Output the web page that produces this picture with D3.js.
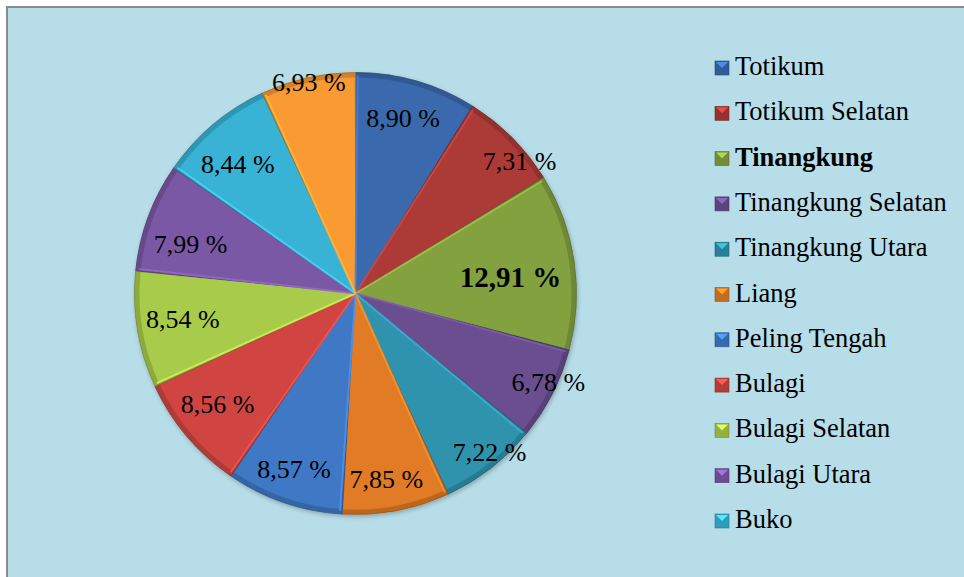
<!DOCTYPE html>
<html>
<head>
    <meta charset="utf-8">
    <style> body { margin: 0; background: #ffffff; } </style>
    <script src="https://cdn.jsdelivr.net/npm/d3@7/dist/d3.min.js"></script>
</head>
<body>
    <div id="chart"></div>
    <script>

        var kecamatan = ["Totikum", "Totikum Selatan", "Tinangkung", "Tinangkung Selatan",
            "Tinangkung Utara", "Liang", "Peling Tengah", "Bulagi", "Bulagi Selatan",
            "Bulagi Utara", "Buko", "Buko Selatan"];
        var persen = [8.90, 7.31, 12.91, 6.78, 7.22, 7.85, 8.57, 8.56, 8.54, 7.99, 8.44, 6.93];
        var labelTeks = ["8,90 %", "7,31 %", "12,91 %", "6,78 %", "7,22 %", "7,85 %",
            "8,57 %", "8,56 %", "8,54 %", "7,99 %", "8,44 %", "6,93 %"];
        var legendCount = 11; // only 11 entries fit in the box

        var warna = ["#3a6aad", "#ac3a37", "#83a23f", "#6a4e8f", "#2f93ae", "#e17b25",
            "#3f79c5", "#d04541", "#a9cb4a", "#7b58a6", "#38b3d6", "#f99a33"];

        // label placement (excel "best fit"): [radius fraction, angle shift in degrees]
        var labelPos = [[0.82, -0.8], [0.955, 5.8], [0.706, 2.2], [0.96, -2.4], [0.94, -2.4],
            [0.85, 1.2], [0.84, 0.4], [0.80, 1.5], [0.79, 1], [0.78, -3.5], [0.79, -2.2], [0.98, 0]];

        var W = 964, H = 577;
        var cx = 355.5, cy = 293.5, R = 221;

        var svg = d3.select("#chart").append("svg")
            .attr("width", W)
            .attr("height", H);

        var defs = svg.append("defs");
        var f = defs.append("filter").attr("id", "shadow")
            .attr("x", "-10%").attr("y", "-10%").attr("width", "120%").attr("height", "120%");
        f.append("feDropShadow")
            .attr("dx", 1).attr("dy", 2).attr("stdDeviation", 2)
            .attr("flood-color", "#000").attr("flood-opacity", 0.25);

        // background box (right and bottom edges are cut off)
        svg.append("rect")
            .attr("x", 7).attr("y", 7)
            .attr("width", W + 10).attr("height", H + 10)
            .attr("fill", "#b7dde8")
            .attr("stroke", "#8a8a8a")
            .attr("stroke-width", 2);

        var data = persen.map(function(v, i) {
            return { name: kecamatan[i], value: v, label: labelTeks[i], color: warna[i], i: i };
        });

        var pie = d3.pie().sort(null).value(function(d) { return d.value; });
        var arcs = pie(data);

        var arc = d3.arc().innerRadius(0).outerRadius(R);
        var arcInner = d3.arc().innerRadius(0).outerRadius(R - 5);

        var g = svg.append("g")
            .attr("transform", "translate(" + cx + "," + cy + ")");

        var slices = g.append("g").attr("filter", "url(#shadow)");

        // bevel: dark base, then lighter inset
        slices.selectAll("path.base")
            .data(arcs)
            .enter().append("path")
            .attr("class", "base")
            .attr("d", arc)
            .attr("fill", function(d) { return d3.color(d.data.color).darker(0.5); })
            .attr("stroke", function(d) { return d3.color(d.data.color).darker(1); })
            .attr("stroke-width", 0.8);

        g.selectAll("path.top")
            .data(arcs)
            .enter().append("path")
            .attr("class", "top")
            .attr("d", function(d) {
                return arcInner({ startAngle: d.startAngle + 0.012, endAngle: d.endAngle - 0.004 });
            })
            .attr("fill", function(d) { return d.data.color; });

        // light edge on the leading side of each slice
        g.selectAll("line.hl")
            .data(arcs)
            .enter().append("line")
            .attr("class", "hl")
            .attr("x1", 0).attr("y1", 0)
            .attr("x2", function(d) { return Math.sin(d.startAngle + 0.01) * (R - 3); })
            .attr("y2", function(d) { return -Math.cos(d.startAngle + 0.01) * (R - 3); })
            .attr("stroke", function(d) { return d3.color(d.data.color).brighter(0.6); })
            .attr("stroke-width", 2)
            .attr("stroke-opacity", 0.8);

        function labelXY(d) {
            var p = labelPos[d.data.i];
            var a = (d.startAngle + d.endAngle) / 2 + p[1] * Math.PI / 180;
            return [Math.sin(a) * R * p[0], -Math.cos(a) * R * p[0]];
        }

        g.selectAll("text.lbl")
            .data(arcs)
            .enter().append("text")
            .attr("class", "lbl")
            .attr("x", function(d) { return labelXY(d)[0]; })
            .attr("y", function(d) { return labelXY(d)[1]; })
            .attr("dy", "0.34em")
            .attr("text-anchor", "middle")
            .attr("font-family", "'Liberation Serif', 'Times New Roman', serif")
            .attr("font-size", function(d) { return d.data.value > 12 ? 29 : 26; })
            .attr("font-weight", function(d) { return d.data.value > 12 ? "bold" : "normal"; })
            .attr("fill", "#000")
            .text(function(d) { return d.data.label; });

        // legend
        var legend = svg.append("g")
            .attr("transform", "translate(715,61)");

        var rows = legend.selectAll("g.row")
            .data(data.slice(0, legendCount))
            .enter().append("g")
            .attr("class", "row")
            .attr("transform", function(d, i) { return "translate(0," + (i * 45.3) + ")"; });

        rows.append("rect")
            .attr("width", 14).attr("height", 14)
            .attr("fill", function(d) { return d3.color(d.color).darker(0.4); })
            .attr("stroke", function(d) { return d3.color(d.color).darker(1); })
            .attr("stroke-width", 0.6);

        rows.append("path")
            .attr("d", "M1,1L13,1L7,7Z")
            .attr("fill", function(d) { return d3.color(d.color).brighter(0.8); });

        rows.append("text")
            .attr("x", 20)
            .attr("y", 14)
            .attr("font-family", "'Liberation Serif', 'Times New Roman', serif")
            .attr("font-size", 26.5)
            .attr("font-weight", function(d) { return d.value > 12 ? "bold" : "normal"; })
            .attr("fill", "#000")
            .text(function(d) { return d.name; });

    </script>
</body>
</html>
